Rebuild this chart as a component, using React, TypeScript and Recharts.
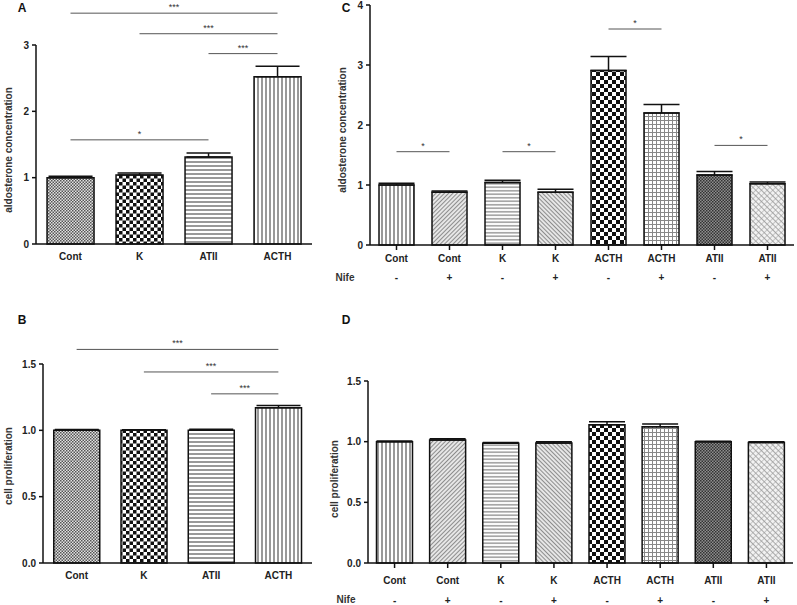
import React from 'react';
import { BarChart, Bar, XAxis, YAxis, Cell, ErrorBar, ReferenceLine } from 'recharts';

// panel A / B groups
const groupsAB = ['Cont', 'K', 'ATII', 'ACTH'];
const aldoA = [1.0, 1.04, 1.31, 2.52];
const aldoErrA = [0.02, 0.03, 0.06, 0.16];
const prolB = [1.0, 1.0, 1.0, 1.17];
const prolErrB = [0.006, 0.004, 0.008, 0.018];
const patternsAB = ['fineCheck', 'bigCheck', 'hLines', 'vLines'];

// panel C / D groups
const groupsCD = ['Cont', 'Cont', 'K', 'K', 'ACTH', 'ACTH', 'ATII', 'ATII'];
const nifeCD = ['-', '+', '-', '+', '-', '+', '-', '+'];
const aldoC = [1.0, 0.88, 1.04, 0.88, 2.91, 2.2, 1.165, 1.02];
const aldoErrC = [0.03, 0.02, 0.04, 0.05, 0.23, 0.14, 0.06, 0.03];
const prolD = [1.0, 1.013, 0.986, 0.99, 1.14, 1.123, 1.0, 0.994];
const prolErrD = [0.005, 0.011, 0.008, 0.009, 0.024, 0.022, 0.004, 0.006];
const patternsCD = ['vLines', 'diagR', 'hLinesFine', 'diagL', 'bigCheck2', 'grid', 'darkCheck', 'crossHatch'];

// significance brackets: [from index, to index, height, stars]
const sigA: [number, number, number, string][] = [
  [0, 3, 3.48, '***'],
  [1, 3, 3.17, '***'],
  [2, 3, 2.87, '***'],
  [0, 2, 1.57, '*'],
];
const sigB: [number, number, number, string][] = [
  [0, 3, 1.61, '***'],
  [1, 3, 1.44, '***'],
  [2, 3, 1.275, '***'],
];
const sigC: [number, number, number, string][] = [
  [0, 1, 1.555, '*'],
  [2, 3, 1.555, '*'],
  [4, 5, 3.6, '*'],
  [6, 7, 1.66, '*'],
];

const idsAB = groupsAB;
const idsCD = groupsCD.map((g, i) => g + nifeCD[i]);

const dataA = idsAB.map((id, i) => ({ id, value: aldoA[i], err: aldoErrA[i] }));
const dataB = idsAB.map((id, i) => ({ id, value: prolB[i], err: prolErrB[i] }));
const dataC = idsCD.map((id, i) => ({ id, value: aldoC[i], err: aldoErrC[i] }));
const dataD = idsCD.map((id, i) => ({ id, value: prolD[i], err: prolErrD[i] }));

const tickStyle = { fill: '#222', fontSize: 10, fontWeight: 700 };
const axisLine = { stroke: '#111', strokeWidth: 1.5 };
const tickLineStyle = { stroke: '#111', strokeWidth: 1.5 };

const Patterns = () => (
  <svg width={0} height={0} style={{ position: 'absolute' }}>
    <defs>
      <pattern id="fineCheck" width={3} height={3} patternUnits="userSpaceOnUse">
        <rect width={3} height={3} fill="#e2e2e2" />
        <rect width={1.5} height={1.5} fill="#555" />
        <rect x={1.5} y={1.5} width={1.5} height={1.5} fill="#555" />
      </pattern>
      <pattern id="bigCheck" width={7} height={7} patternUnits="userSpaceOnUse">
        <rect width={7} height={7} fill="#fff" />
        <rect width={3.5} height={3.5} fill="#111" />
        <rect x={3.5} y={3.5} width={3.5} height={3.5} fill="#111" />
      </pattern>
      <pattern id="bigCheck2" width={8} height={8} patternUnits="userSpaceOnUse">
        <rect width={8} height={8} fill="#fff" />
        <rect width={4} height={4} fill="#111" />
        <rect x={4} y={4} width={4} height={4} fill="#111" />
      </pattern>
      <pattern id="hLines" width={4} height={4} patternUnits="userSpaceOnUse">
        <rect width={4} height={4} fill="#fff" />
        <line x1={0} y1={2} x2={4} y2={2} stroke="#777" strokeWidth={1.5} />
      </pattern>
      <pattern id="hLinesFine" width={3.5} height={3.5} patternUnits="userSpaceOnUse">
        <rect width={3.5} height={3.5} fill="#fff" />
        <line x1={0} y1={1.75} x2={3.5} y2={1.75} stroke="#888" strokeWidth={1.3} />
      </pattern>
      <pattern id="vLines" width={4} height={4} patternUnits="userSpaceOnUse">
        <rect width={4} height={4} fill="#fff" />
        <line x1={2} y1={0} x2={2} y2={4} stroke="#777" strokeWidth={1.5} />
      </pattern>
      <pattern id="diagR" width={3} height={3} patternUnits="userSpaceOnUse" patternTransform="rotate(45)">
        <rect width={3} height={3} fill="#e6e6e6" />
        <line x1={0} y1={0} x2={0} y2={3} stroke="#666" strokeWidth={1.4} />
      </pattern>
      <pattern id="diagL" width={3} height={3} patternUnits="userSpaceOnUse" patternTransform="rotate(-45)">
        <rect width={3} height={3} fill="#e6e6e6" />
        <line x1={0} y1={0} x2={0} y2={3} stroke="#666" strokeWidth={1.4} />
      </pattern>
      <pattern id="grid" width={4} height={4} patternUnits="userSpaceOnUse">
        <rect width={4} height={4} fill="#fff" />
        <line x1={0} y1={0.5} x2={4} y2={0.5} stroke="#888" strokeWidth={1} />
        <line x1={0.5} y1={0} x2={0.5} y2={4} stroke="#888" strokeWidth={1} />
      </pattern>
      <pattern id="darkCheck" width={3} height={3} patternUnits="userSpaceOnUse">
        <rect width={3} height={3} fill="#8e8e8e" />
        <rect width={1.5} height={1.5} fill="#333" />
        <rect x={1.5} y={1.5} width={1.5} height={1.5} fill="#333" />
      </pattern>
      <pattern id="crossHatch" width={4} height={4} patternUnits="userSpaceOnUse" patternTransform="rotate(45)">
        <rect width={4} height={4} fill="#f2f2f2" />
        <line x1={0} y1={0} x2={4} y2={0} stroke="#777" strokeWidth={1.2} />
        <line x1={0} y1={0} x2={0} y2={4} stroke="#999" strokeWidth={1} />
      </pattern>
    </defs>
  </svg>
);

const sigLines = (sig: [number, number, number, string][], ids: string[]) =>
  sig.map(([a, b, y, stars], i) => (
    <ReferenceLine
      key={'sig' + i}
      segment={[{ x: ids[a], y }, { x: ids[b], y }]}
      stroke="#555"
      strokeWidth={1}
      ifOverflow="visible"
      label={{ value: stars, position: 'top', fontSize: 9, fill: '#333', offset: 3 }}
    />
  ));

const bars = (patterns: string[], capWidth: number) => (
  <Bar dataKey="value" isAnimationActive={false} stroke="#111" strokeWidth={1.5}>
    {patterns.map((p, i) => (
      <Cell key={i} fill={`url(#${p})`} />
    ))}
    <ErrorBar dataKey={(d: any) => [0, d.err]} width={capWidth} stroke="#111" strokeWidth={1.5} direction="y" />
  </Bar>
);

const App = () => {
  return (
    <div
      style={{
        position: 'absolute',
        left: 0,
        top: 0,
        width: 797,
        height: 605,
        overflow: 'hidden',
        background: '#fff',
        fontFamily: '"Liberation Sans", Arial, sans-serif',
      }}
    >
      <Patterns />

      {/* A */}
      <div style={{ position: 'absolute', left: 0, top: 0 }}>
        <BarChart width={330} height={300} data={dataA} margin={{ top: 45, right: 18, left: 0, bottom: 26 }} barCategoryGap="16%">
          <XAxis dataKey="id" tickLine={false} axisLine={axisLine} tick={tickStyle} tickSize={5} tickMargin={3.5} height={30} interval={0} />
          <YAxis width={36} domain={[0, 3]} ticks={[0, 1, 2, 3]} axisLine={axisLine} tickLine={tickLineStyle} tick={tickStyle} tickSize={4} tickMargin={3} />
          {bars(patternsAB, 22)}
          {sigLines(sigA, idsAB)}
        </BarChart>
      </div>

      {/* B */}
      <div style={{ position: 'absolute', left: 0, top: 300 }}>
        <BarChart width={330} height={305} data={dataB} margin={{ top: 64, right: 18, left: 0, bottom: 12 }} barCategoryGap="16%">
          <XAxis dataKey="id" tickLine={false} axisLine={axisLine} tick={tickStyle} tickSize={5} tickMargin={3.8} height={30} interval={0} />
          <YAxis
            width={43}
            domain={[0, 1.5]}
            ticks={[0, 0.5, 1, 1.5]}
            tickFormatter={(v: number) => v.toFixed(1)}
            axisLine={axisLine}
            tickLine={tickLineStyle}
            tick={tickStyle}
            tickSize={4}
            tickMargin={3}
          />
          {bars(patternsAB, 22)}
          {sigLines(sigB, idsAB)}
        </BarChart>
      </div>

      {/* C */}
      <div style={{ position: 'absolute', left: 340, top: 0 }}>
        <BarChart width={457} height={300} data={dataC} margin={{ top: 5, right: 3, left: 0, bottom: 13 }} barCategoryGap="17%">
          <XAxis dataKey="id" tickLine={tickLineStyle} axisLine={axisLine} tick={tickStyle} tickSize={5} tickMargin={4.5} height={22} interval={0} tickFormatter={(_v: string, i: number) => groupsCD[i]} />
          <XAxis xAxisId="nife" dataKey="id" tickLine={false} axisLine={false} tick={tickStyle} tickSize={4} tickMargin={3} height={20} interval={0} tickFormatter={(_v: string, i: number) => nifeCD[i]} />
          <YAxis width={30} domain={[0, 4]} ticks={[0, 1, 2, 3, 4]} axisLine={axisLine} tickLine={tickLineStyle} tick={tickStyle} tickSize={4} tickMargin={3} />
          {bars(patternsCD, 18)}
          {sigLines(sigC, idsCD)}
        </BarChart>
      </div>

      {/* D */}
      <div style={{ position: 'absolute', left: 340, top: 300 }}>
        <BarChart width={457} height={305} data={dataD} margin={{ top: 81, right: 4, left: 0, bottom: 0 }} barCategoryGap="16%">
          <XAxis dataKey="id" tickLine={tickLineStyle} axisLine={axisLine} tick={tickStyle} tickSize={5} tickMargin={8.5} height={24} interval={0} tickFormatter={(_v: string, i: number) => groupsCD[i]} />
          <XAxis xAxisId="nife" dataKey="id" tickLine={false} axisLine={false} tick={tickStyle} tickSize={4} tickMargin={5.5} height={18} interval={0} tickFormatter={(_v: string, i: number) => nifeCD[i]} />
          <YAxis
            width={28}
            domain={[0, 1.5]}
            ticks={[0, 0.5, 1, 1.5]}
            tickFormatter={(v: number) => v.toFixed(1)}
            axisLine={axisLine}
            tickLine={tickLineStyle}
            tick={tickStyle}
            tickSize={4}
            tickMargin={3}
          />
          {bars(patternsCD, 18)}
        </BarChart>
      </div>

      {/* panel letters, axis titles */}
      <svg width={797} height={605} style={{ position: 'absolute', left: 0, top: 0, pointerEvents: 'none' }}>
        <g fontWeight={700} fill="#111" fontSize={12} textAnchor="middle">
          <text x={22} y={12}>A</text>
          <text x={346} y={12}>C</text>
          <text x={22} y={324}>B</text>
          <text x={346} y={324}>D</text>
        </g>
        <g fontWeight={700} fill="#333" fontSize={10} textAnchor="middle">
          <text transform="translate(12,150) rotate(-90)">aldosterone concentration</text>
          <text transform="translate(346,130) rotate(-90)">aldosterone concentration</text>
          <text transform="translate(12,466) rotate(-90)">cell proliferation</text>
          <text transform="translate(338,479) rotate(-90)">cell proliferation</text>
          <text x={345} y={281}>Nife</text>
          <text x={346} y={603}>Nife</text>
        </g>
      </svg>
    </div>
  );
};

export default App;
